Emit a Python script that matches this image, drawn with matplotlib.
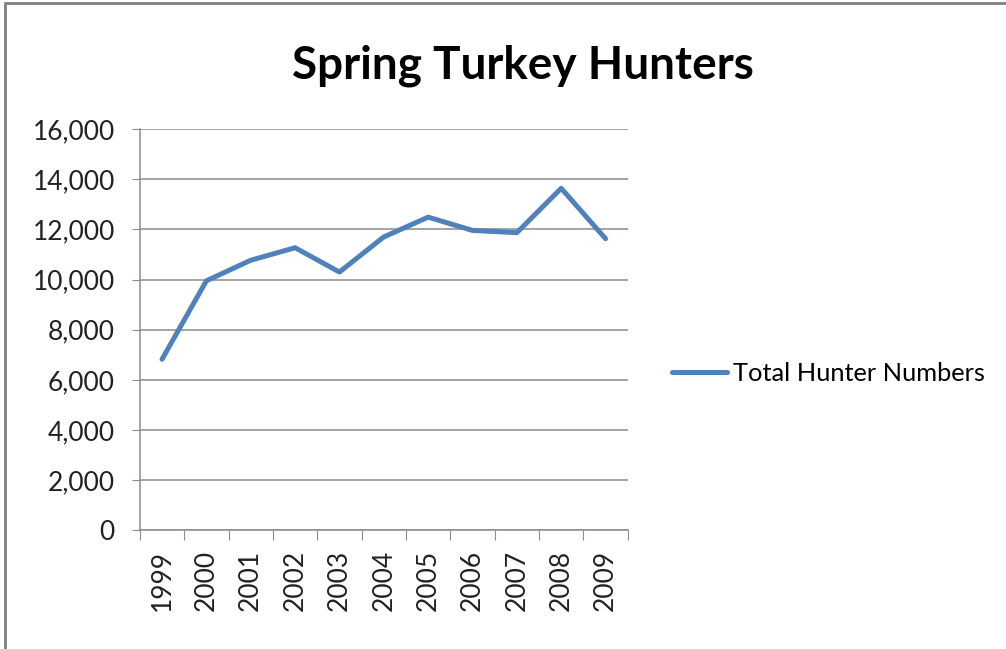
import matplotlib.pyplot as plt
from matplotlib.patches import Rectangle

years = ['1999', '2000', '2001', '2002', '2003', '2004', '2005', '2006', '2007', '2008', '2009']
hunters = [6820, 9950, 10770, 11270, 10300, 11700, 12490, 11960, 11870, 13640, 11630]
y_ticks = [0, 2000, 4000, 6000, 8000, 10000, 12000, 14000, 16000]

plt.rcParams['font.family'] = ['Lato', 'DejaVu Sans']

fig = plt.figure(figsize=(10.06, 6.49), dpi=100)
ax = fig.add_axes([0.139, 0.183, 0.485, 0.618])

x = list(range(len(years)))
line, = ax.plot(x, hunters, color='#4F81BD', linewidth=3.6, solid_capstyle='round',
                solid_joinstyle='round', label='Total Hunter Numbers')

ax.set_xlim(-0.5, len(years) - 0.5)
ax.set_ylim(0, 16000)
ax.set_yticks(y_ticks)
ax.set_yticklabels([f'{v:,}' for v in y_ticks], fontsize=19, color='#222222')
ax.yaxis.grid(True, color='#8c8c8c', linewidth=1.1)
ax.set_axisbelow(True)

# Excel style: ticks between categories, labels at the centres
ax.set_xticks([i - 0.5 for i in range(len(years) + 1)])
ax.set_xticklabels([])
ax.set_xticks(x, minor=True)
ax.set_xticklabels(years, minor=True, rotation=90, fontsize=19, color='#222222')
ax.tick_params(axis='x', which='minor', length=0, pad=14)
ax.tick_params(axis='x', which='major', length=7, color='#8c8c8c', direction='out')
ax.tick_params(axis='y', length=6, color='#8c8c8c', direction='out', pad=12)

for side in ['top', 'right']:
    ax.spines[side].set_visible(False)
for side in ['left', 'bottom']:
    ax.spines[side].set_color('#8c8c8c')
    ax.spines[side].set_linewidth(1.1)

fig.text(0.52, 0.898, 'Spring Turkey Hunters', ha='center', va='center',
         fontsize=33, fontweight='bold')

fig.legend(handles=[line], loc='center left', bbox_to_anchor=(0.658, 0.424),
           borderaxespad=0, frameon=False, fontsize=18.3, handlelength=2.15,
           handletextpad=0.25)

fig.patches.append(Rectangle((0.005, -0.1), 1.2, 1.095, transform=fig.transFigure,
                             fill=False, edgecolor='#7f7f7f', linewidth=2))

fig.savefig('out.png', dpi=100)
